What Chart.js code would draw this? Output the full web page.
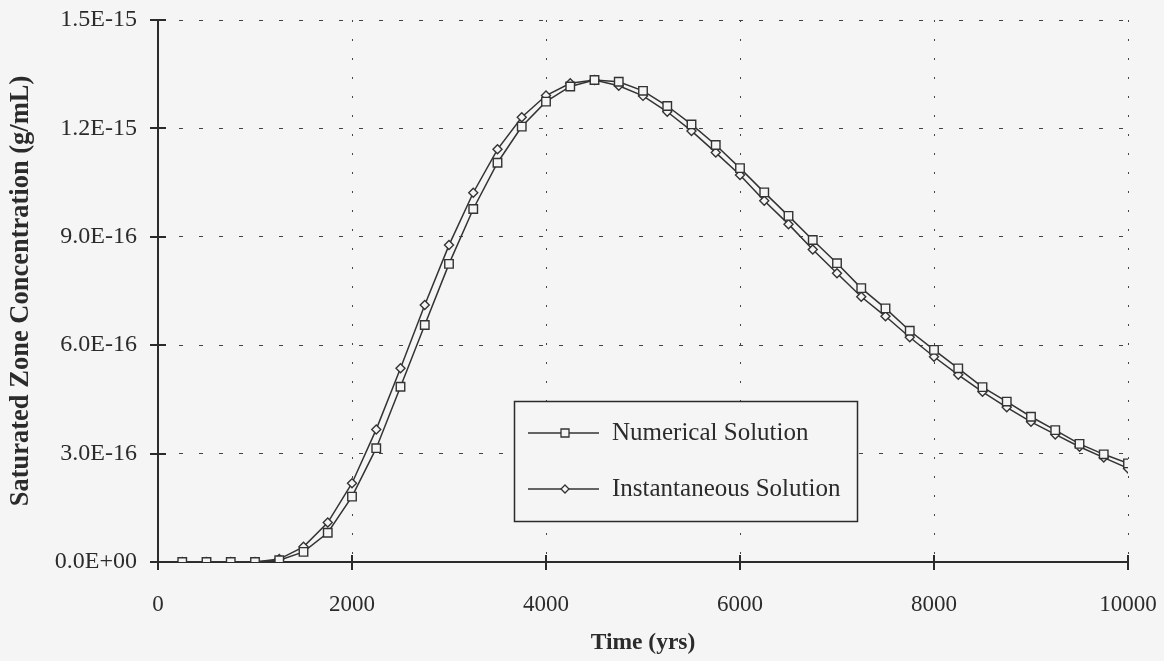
<!DOCTYPE html>
<html>
<head>
<meta charset="utf-8">
<script src="https://cdn.jsdelivr.net/npm/chart.js@4"></script>
<style>
  html, body { margin: 0; padding: 0; background: #f4f5f4; }
  canvas { display: block; }
</style>
</head>
<body>
<canvas id="conc-chart" width="1164" height="661"></canvas>
<script>
"use strict";

// Data (concentrations in units of 1E-16 g/mL)
const years = [250, 500, 750, 1000, 1250, 1500, 1750, 2000, 2250, 2500,
    2750, 3000, 3250, 3500, 3750, 4000, 4250, 4500, 4750, 5000,
    5250, 5500, 5750, 6000, 6250, 6500, 6750, 7000, 7250, 7500,
    7750, 8000, 8250, 8500, 8750, 9000, 9250, 9500, 9750, 10000];

const numerical = [0, 0, 0, 0, 0.05, 0.28, 0.81, 1.81, 3.15, 4.85,
    6.56, 8.25, 9.77, 11.05, 12.05, 12.74, 13.16, 13.34, 13.29, 13.04,
    12.62, 12.11, 11.54, 10.90, 10.23, 9.58, 8.91, 8.27, 7.58, 7.02,
    6.40, 5.87, 5.36, 4.84, 4.44, 4.02, 3.65, 3.27, 2.98, 2.73];

const instantaneous = [0, 0, 0, 0, 0.08, 0.42, 1.09, 2.18, 3.67, 5.36,
    7.11, 8.77, 10.22, 11.42, 12.31, 12.91, 13.25, 13.34, 13.18, 12.90,
    12.46, 11.93, 11.33, 10.71, 10.00, 9.35, 8.65, 7.99, 7.34, 6.80,
    6.22, 5.68, 5.18, 4.71, 4.28, 3.88, 3.53, 3.19, 2.89, 2.59];

const yTickValues = [0, 3, 6, 9, 12, 15];
const yTickLabels = ["0.0E+00", "3.0E-16", "6.0E-16", "9.0E-16", "1.2E-15", "1.5E-15"];
const xTickValues = [0, 2000, 4000, 6000, 8000, 10000];

const ink = '#2b2b2b';
const paper = '#f4f5f4';
const serif = "'Liberation Serif', 'Times New Roman', serif";

const toPoints = (vals) => vals.map((v, i) => ({ x: years[i], y: v }));

// background of the sheet
const paperBg = {
    id: 'paperBg',
    beforeDraw(chart) {
        const ctx = chart.ctx;
        ctx.save();
        ctx.fillStyle = paper;
        ctx.fillRect(0, 0, chart.width, chart.height);
        ctx.restore();
    }
};

// tick marks crossing the axes, and the boxed legend inside the plot
const axisExtras = {
    id: 'axisExtras',
    afterDraw(chart) {
        const ctx = chart.ctx;
        const area = chart.chartArea;
        const xs = chart.scales.x;
        const ys = chart.scales.y;

        ctx.save();
        ctx.strokeStyle = ink;
        ctx.lineWidth = 2;
        ctx.beginPath();
        xTickValues.forEach(v => {
            const px = Math.round(xs.getPixelForValue(v));
            ctx.moveTo(px, area.bottom - 7);
            ctx.lineTo(px, area.bottom + 8);
        });
        yTickValues.forEach(v => {
            const py = Math.round(ys.getPixelForValue(v));
            ctx.moveTo(area.left - 8, py);
            ctx.lineTo(area.left + 8, py);
        });
        ctx.stroke();

        // legend
        const box = { left: 514.5, top: 401.5, width: 343, height: 120 };
        ctx.fillStyle = paper;
        ctx.fillRect(box.left, box.top, box.width, box.height);
        ctx.lineWidth = 1.5;
        ctx.strokeRect(box.left, box.top, box.width, box.height);

        const rowsY = [433, 489];
        ctx.font = "25px " + serif;
        ctx.textBaseline = 'middle';
        ctx.textAlign = 'left';
        chart.data.datasets.forEach((ds, i) => {
            const y = rowsY[i];
            ctx.strokeStyle = ds.borderColor;
            ctx.lineWidth = 1.3;
            ctx.beginPath();
            ctx.moveTo(528, y);
            ctx.lineTo(599, y);
            ctx.stroke();
            ctx.fillStyle = paper;
            ctx.beginPath();
            if (ds.pointStyle === 'rect') {
                ctx.rect(561, y - 4, 8, 8);
            } else {
                ctx.moveTo(565, y - 4);
                ctx.lineTo(569, y);
                ctx.lineTo(565, y + 4);
                ctx.lineTo(561, y);
                ctx.closePath();
            }
            ctx.fill();
            ctx.stroke();
            ctx.fillStyle = ink;
            ctx.fillText(ds.label, 612, y);
        });
        ctx.restore();
    }
};

const data = {
    datasets: [
        {
            label: 'Numerical Solution',
            data: toPoints(numerical),
            borderColor: '#333333',
            backgroundColor: paper,
            borderWidth: 1.5,
            pointStyle: 'rect',
            pointRadius: 6,
            pointBorderWidth: 1.4,
            tension: 0
        },
        {
            label: 'Instantaneous Solution',
            data: toPoints(instantaneous),
            borderColor: '#333333',
            backgroundColor: paper,
            borderWidth: 1.5,
            pointStyle: 'rectRot',
            pointRadius: 4.5,
            pointBorderWidth: 1.4,
            tension: 0
        }
    ]
};

const config = {
    type: 'line',
    data: data,
    options: {
        responsive: false,
        devicePixelRatio: 1,
        animation: false,
        layout: { padding: { left: 0, right: 36, top: 20, bottom: 0 } },
        scales: {
            x: {
                type: 'linear',
                min: 0,
                max: 10000,
                afterFit(scale) {
                    scale.height = 99;
                    scale.paddingLeft = 0;
                    scale.paddingRight = 0;
                },
                afterBuildTicks(scale) { scale.ticks = xTickValues.map(v => ({ value: v })); },
                ticks: {
                    color: ink,
                    padding: 29,
                    maxRotation: 0,
                    font: { family: serif, size: 23 },
                    callback: (v) => String(v)
                },
                grid: { color: '#444444', lineWidth: 1, drawTicks: false },
                border: { display: true, color: ink, width: 2, dash: [2, 17] },
                title: {
                    display: true,
                    text: 'Time (yrs)',
                    color: ink,
                    font: { family: serif, size: 23.5, weight: 'bold' },
                    padding: { top: 0, bottom: 4 }
                }
            },
            y: {
                type: 'linear',
                min: 0,
                max: 15,
                afterFit(scale) {
                    scale.width = 158;
                    scale.paddingTop = 0;
                    scale.paddingBottom = 0;
                },
                afterBuildTicks(scale) { scale.ticks = yTickValues.map(v => ({ value: v })); },
                ticks: {
                    color: ink,
                    padding: 21,
                    font: { family: serif, size: 24 },
                    callback: (v) => yTickLabels[yTickValues.indexOf(v)]
                },
                grid: { color: '#444444', lineWidth: 1, drawTicks: false },
                border: { display: true, color: ink, width: 2, dash: [4, 16] },
                title: {
                    display: true,
                    text: 'Saturated Zone Concentration (g/mL)',
                    color: ink,
                    font: { family: serif, size: 26.5, weight: 'bold' },
                    padding: { top: 5, bottom: 0 }
                }
            }
        },
        plugins: {
            legend: { display: false },
            tooltip: { enabled: false }
        }
    },
    plugins: [paperBg, axisExtras]
};

const concChart = new Chart(document.getElementById('conc-chart'), config);
</script>
</body>
</html>
